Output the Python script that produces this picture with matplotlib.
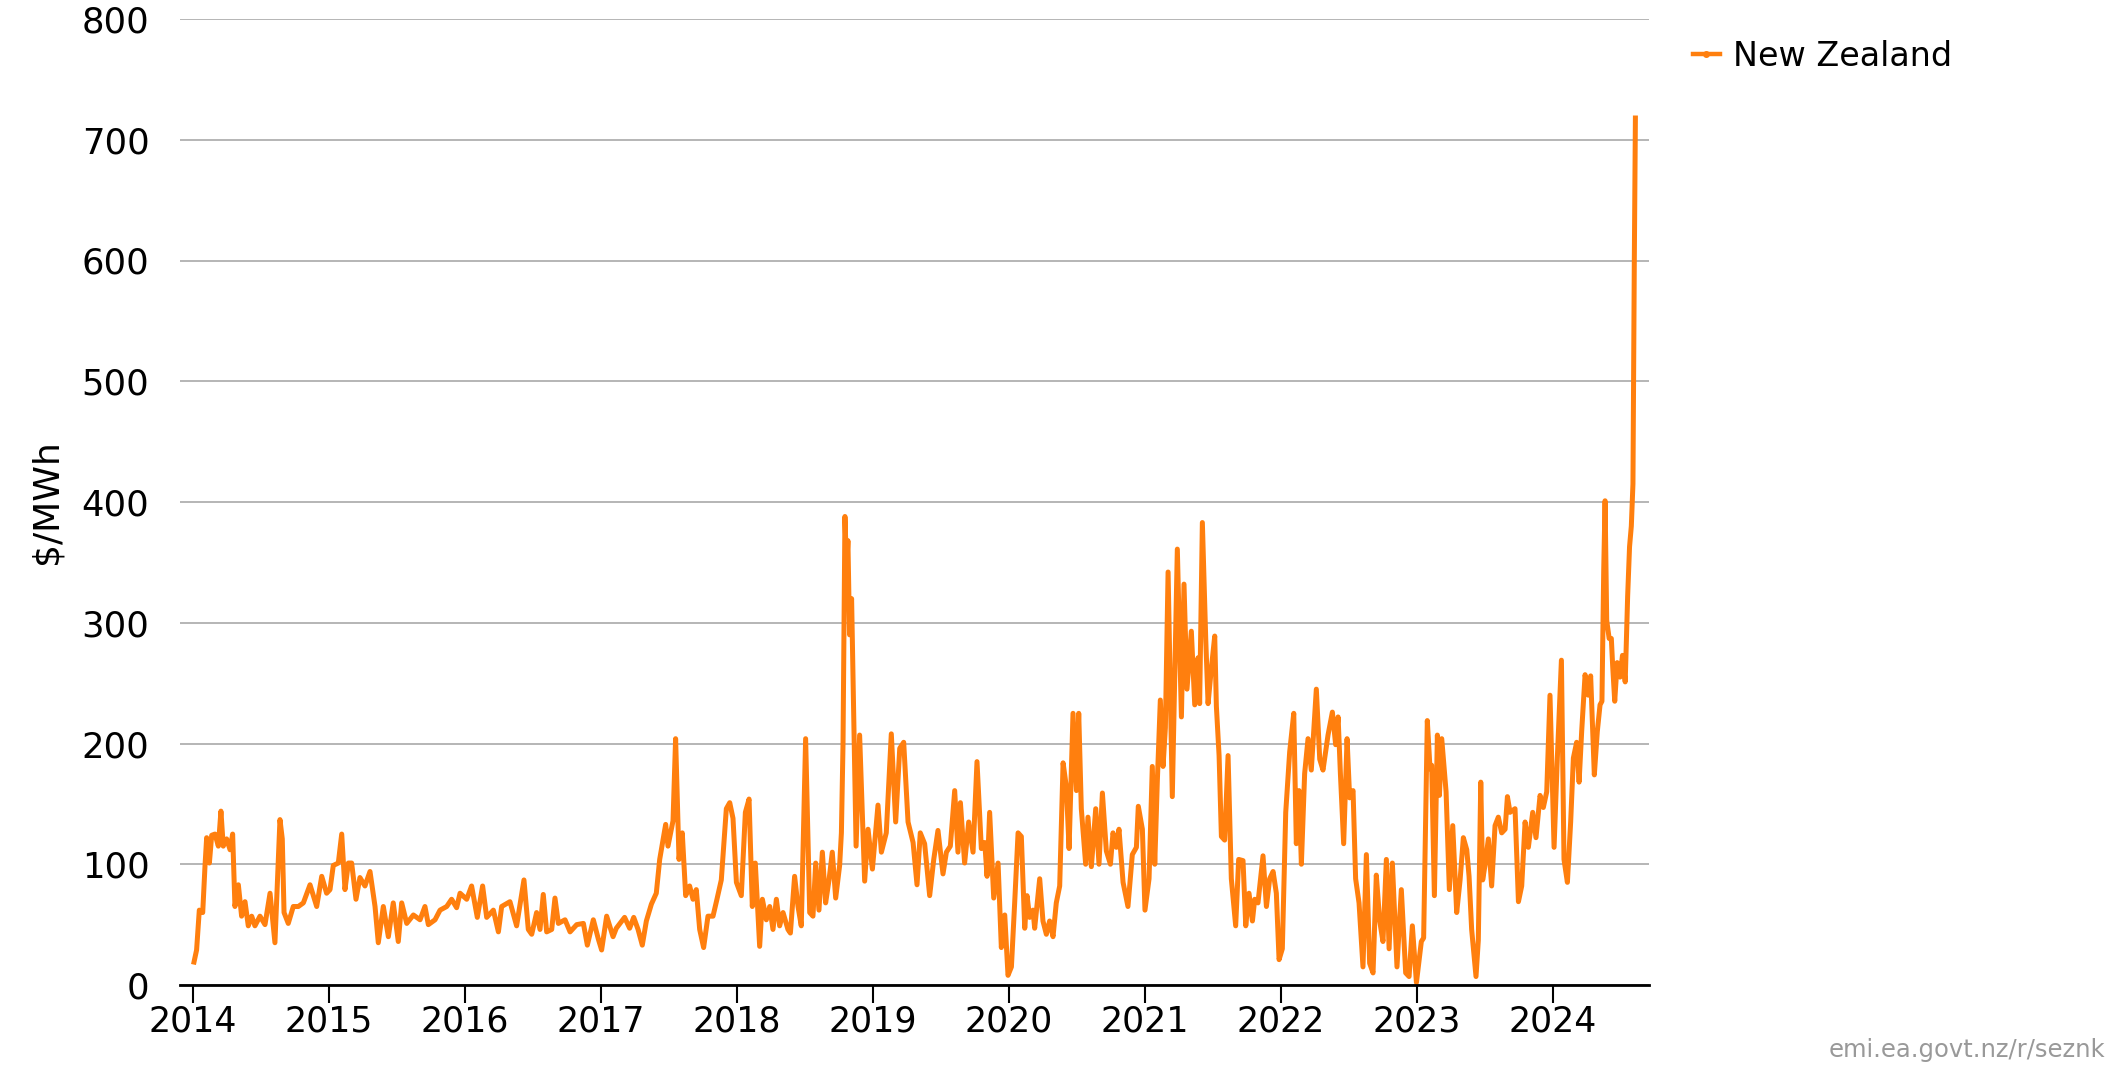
import matplotlib
matplotlib.use("Agg")
import matplotlib.pyplot as plt
from matplotlib.lines import Line2D

# weekly wholesale price (decimal year, $/MWh)
t_2014_2016 = [2014.010, 2014.029, 2014.049, 2014.074, 2014.091, 2014.103, 2014.123, 2014.140, 2014.164, 2014.189,
               2014.208, 2014.225, 2014.250, 2014.275, 2014.294, 2014.311, 2014.336, 2014.360, 2014.385, 2014.409,
               2014.434, 2014.458, 2014.495, 2014.532, 2014.569, 2014.605, 2014.642, 2014.659, 2014.672, 2014.703,
               2014.740, 2014.777, 2014.814, 2014.863, 2014.912, 2014.949, 2014.985, 2015.010, 2015.034, 2015.071,
               2015.096, 2015.120, 2015.145, 2015.169, 2015.201, 2015.230, 2015.267, 2015.304, 2015.341, 2015.365,
               2015.402, 2015.439, 2015.475, 2015.512, 2015.537, 2015.574, 2015.623, 2015.672, 2015.708, 2015.733,
               2015.782, 2015.819, 2015.868, 2015.904, 2015.941, 2015.966, 2016.015, 2016.051, 2016.093, 2016.132,
               2016.162, 2016.211, 2016.248, 2016.272, 2016.333, 2016.382, 2016.436, 2016.468, 2016.493, 2016.529,
               2016.554, 2016.578, 2016.603, 2016.640, 2016.664, 2016.689, 2016.738, 2016.775, 2016.824, 2016.873,
               2016.902, 2016.946, 2016.983]
p_2014_2016 = [19, 29, 62, 60, 99, 122, 101, 124, 125, 115,
               144, 115, 121, 112, 125, 65, 83, 57, 69, 49,
               57, 49, 57, 50, 76, 35, 137, 121, 60, 51,
               65, 65, 68, 83, 65, 90, 76, 79, 99, 101,
               125, 79, 101, 101, 71, 89, 82, 94, 65, 35,
               65, 40, 68, 36, 68, 51, 58, 54, 65, 50,
               54, 62, 65, 71, 64, 76, 71, 82, 56, 82,
               56, 62, 44, 65, 69, 49, 87, 46, 42, 60,
               46, 75, 44, 46, 72, 51, 54, 44, 50, 51,
               33, 54, 38]

t_2017_2019 = [2017.007, 2017.044, 2017.091, 2017.115, 2017.176, 2017.213, 2017.243, 2017.275, 2017.306, 2017.336,
               2017.373, 2017.409, 2017.434, 2017.478, 2017.495, 2017.532, 2017.551, 2017.576, 2017.600, 2017.625,
               2017.654, 2017.679, 2017.703, 2017.728, 2017.757, 2017.789, 2017.826, 2017.855, 2017.887, 2017.924,
               2017.949, 2017.973, 2017.998, 2018.034, 2018.064, 2018.091, 2018.115, 2018.137, 2018.169, 2018.189,
               2018.218, 2018.243, 2018.267, 2018.292, 2018.316, 2018.341, 2018.377, 2018.395, 2018.426, 2018.451,
               2018.475, 2018.507, 2018.537, 2018.561, 2018.581, 2018.605, 2018.630, 2018.654, 2018.679, 2018.703,
               2018.728, 2018.757, 2018.770, 2018.782, 2018.796, 2018.808, 2018.818, 2018.830, 2018.845, 2018.858,
               2018.878, 2018.904, 2018.941, 2018.966, 2018.998, 2019.039, 2019.064, 2019.100, 2019.137, 2019.169,
               2019.199, 2019.228, 2019.260, 2019.297, 2019.326, 2019.350, 2019.382, 2019.419, 2019.449, 2019.480,
               2019.517, 2019.542, 2019.571, 2019.603, 2019.627, 2019.645, 2019.676, 2019.706, 2019.738, 2019.767,
               2019.799, 2019.824, 2019.841, 2019.860, 2019.890, 2019.922, 2019.946, 2019.971, 2019.995]
p_2017_2019 = [29, 57, 40, 47, 56, 47, 56, 46, 33, 53,
               67, 76, 104, 133, 115, 136, 204, 104, 126, 74,
               82, 71, 79, 46, 31, 57, 57, 71, 87, 146,
               151, 138, 85, 74, 143, 154, 65, 101, 32, 71,
               54, 65, 46, 71, 49, 60, 46, 43, 90, 65,
               49, 204, 60, 57, 101, 62, 110, 68, 87, 110,
               72, 99, 126, 200, 388, 345, 368, 290, 320, 240,
               115, 207, 86, 129, 96, 149, 110, 126, 208, 135,
               196, 201, 135, 118, 83, 126, 117, 74, 104, 128,
               92, 110, 115, 161, 110, 151, 101, 135, 110, 185,
               113, 118, 90, 143, 72, 101, 31, 58, 8]

t_2020_2022 = [2020.020, 2020.044, 2020.069, 2020.093, 2020.118, 2020.135, 2020.154, 2020.179, 2020.191, 2020.228,
               2020.252, 2020.277, 2020.301, 2020.326, 2020.350, 2020.375, 2020.400, 2020.424, 2020.444, 2020.473,
               2020.498, 2020.515, 2020.534, 2020.566, 2020.583, 2020.608, 2020.640, 2020.664, 2020.689, 2020.718,
               2020.748, 2020.767, 2020.792, 2020.811, 2020.841, 2020.877, 2020.909, 2020.939, 2020.953, 2020.983,
               2021.002, 2021.032, 2021.056, 2021.074, 2021.093, 2021.115, 2021.135, 2021.152, 2021.172, 2021.203,
               2021.240, 2021.270, 2021.289, 2021.311, 2021.343, 2021.368, 2021.392, 2021.404, 2021.424, 2021.449,
               2021.466, 2021.490, 2021.515, 2021.527, 2021.547, 2021.564, 2021.588, 2021.613, 2021.637, 2021.669,
               2021.691, 2021.723, 2021.743, 2021.767, 2021.792, 2021.809, 2021.833, 2021.870, 2021.895, 2021.919,
               2021.944, 2021.968, 2021.988, 2022.012, 2022.037, 2022.066, 2022.096, 2022.115, 2022.135, 2022.152,
               2022.176, 2022.201, 2022.225, 2022.262, 2022.287, 2022.311, 2022.348, 2022.380, 2022.404, 2022.422,
               2022.439, 2022.463, 2022.488, 2022.507, 2022.532, 2022.551, 2022.576, 2022.605, 2022.630, 2022.654,
               2022.679, 2022.703, 2022.728, 2022.752, 2022.777, 2022.797, 2022.821, 2022.855, 2022.887, 2022.919,
               2022.944, 2022.968, 2022.998]
p_2020_2022 = [15, 68, 126, 123, 47, 74, 56, 62, 47, 88,
               53, 42, 53, 40, 68, 82, 184, 164, 113, 225,
               161, 225, 146, 100, 139, 98, 146, 100, 159, 111,
               100, 126, 114, 129, 85, 65, 108, 114, 148, 129,
               62, 88, 181, 100, 169, 236, 181, 213, 342, 156,
               361, 222, 332, 245, 293, 232, 271, 233, 383, 286,
               233, 262, 289, 231, 190, 123, 120, 190, 88, 49,
               104, 103, 49, 76, 53, 71, 68, 107, 65, 88,
               94, 76, 21, 30, 143, 193, 225, 117, 161, 100,
               175, 204, 178, 245, 187, 178, 207, 226, 199, 222,
               175, 117, 204, 155, 161, 88, 68, 15, 108, 18,
               10, 91, 53, 36, 104, 30, 101, 15, 79, 10,
               7, 49, 2]

t_2023_2024 = [2023.034, 2023.051, 2023.078, 2023.098, 2023.110, 2023.130, 2023.152, 2023.167, 2023.184, 2023.216,
               2023.240, 2023.265, 2023.294, 2023.319, 2023.343, 2023.368, 2023.385, 2023.404, 2023.436, 2023.453,
               2023.471, 2023.485, 2023.502, 2023.527, 2023.551, 2023.576, 2023.600, 2023.625, 2023.650, 2023.667,
               2023.686, 2023.723, 2023.748, 2023.772, 2023.797, 2023.821, 2023.853, 2023.877, 2023.907, 2023.931,
               2023.956, 2023.980, 2024.010, 2024.034, 2024.064, 2024.083, 2024.108, 2024.132, 2024.152, 2024.176,
               2024.194, 2024.213, 2024.238, 2024.262, 2024.279, 2024.306, 2024.328, 2024.348, 2024.362, 2024.375,
               2024.385, 2024.397, 2024.415, 2024.431, 2024.441, 2024.456, 2024.474, 2024.495, 2024.513, 2024.533,
               2024.551, 2024.565, 2024.578, 2024.590, 2024.600, 2024.608]
p_2023_2024 = [36, 39, 219, 179, 182, 74, 207, 157, 204, 160,
               79, 132, 60, 87, 122, 112, 90, 46, 7, 37,
               168, 87, 99, 121, 82, 132, 139, 126, 129, 156,
               143, 146, 69, 82, 135, 114, 143, 122, 157, 147,
               160, 240, 114, 188, 269, 104, 85, 135, 188, 201,
               168, 210, 257, 240, 256, 174, 210, 232, 235, 343,
               401, 302, 287, 287, 264, 235, 267, 255, 273, 251,
               322, 363, 380, 415, 600, 718]

week = t_2014_2016 + t_2017_2019 + t_2020_2022 + t_2023_2024
price = p_2014_2016 + p_2017_2019 + p_2020_2022 + p_2023_2024

year_ticks = list(range(2014, 2025))
y_ticks = list(range(0, 801, 100))
series_name = "New Zealand"
line_color = "#ff7f0e"

plt.rcParams['font.family'] = ['DejaVu Sans']

W, H = 2125, 1067
fig = plt.figure(figsize=(W / 100, H / 100), dpi=100)
ax = fig.add_axes([180 / W, 82 / H, (1649 - 180) / W, (985 - 19) / H])

ax.plot(week, price, color=line_color, lw=3.6, solid_joinstyle='round', zorder=3)

ax.set_xlim(2013.907, 2024.708)
ax.set_ylim(0, 800)
ax.set_xticks(year_ticks)
ax.set_xticklabels([str(y) for y in year_ticks])
ax.set_yticks(y_ticks)

ax.grid(axis='y', color='#b5b5b5', lw=1.4)
ax.set_axisbelow(True)
for s in ['left', 'right', 'top']:
    ax.spines[s].set_visible(False)
ax.spines['bottom'].set_color('black')
ax.spines['bottom'].set_linewidth(2)
ax.spines['bottom'].set_zorder(4)

ax.tick_params(axis='x', direction='out', length=13, width=1.5, color='black', labelsize=25, pad=1)
ax.tick_params(axis='y', length=0, labelsize=25.5, pad=22)

ax.set_ylabel("$/MWh", fontsize=26)
ax.yaxis.set_label_coords(-0.079, 0.5)

handle = Line2D([], [], color=line_color, lw=3.2, marker='o', markersize=4)
fig.legend([handle], [series_name], loc='center left', bbox_to_anchor=(1693 / W, 1 - 56 / H),
           frameon=False, fontsize=24, handlelength=0.8, handletextpad=0.4, borderpad=0, borderaxespad=0)

fig.text(2105 / W, 1 - 1050 / H, "emi.ea.govt.nz/r/seznk", color='#999999', fontsize=17.5,
         ha='right', va='center')

fig.savefig("out.png", dpi=100)
